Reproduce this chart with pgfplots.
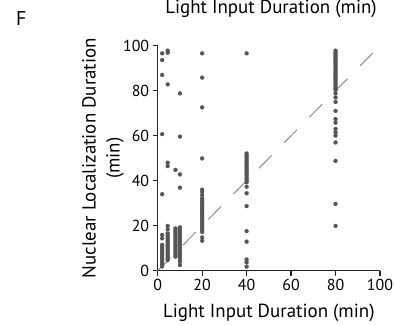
\documentclass[border=0pt]{standalone}
\usepackage{fontspec}
\setmainfont{PT Sans}
\usepackage{pgfplots}
\pgfplotsset{compat=1.18}
\definecolor{pt}{HTML}{555555}
\definecolor{dl}{HTML}{8C8C8C}
\definecolor{ax}{HTML}{222222}
\begin{document}
\begin{tikzpicture}
\useasboundingbox (-157.7bp,-55.3bp) rectangle (236.3bp,270.7bp);
\node[anchor=base west,inner sep=0pt,font=\fontsize{20}{20}\selectfont] at (-141.7bp,244.7bp) {F};
\node[anchor=base,inner sep=0pt,font=\fontsize{19}{19}\selectfont] at (113.3bp,257.2bp) {Light Input Duration (min)};
\begin{axis}[
  at={(0,0)}, anchor=south west,
  scale only axis, width=222.3bp, height=225bp,
  xmin=0, xmax=100, ymin=0, ymax=100,
  axis lines=left, axis line style={-, ax, line width=1.2bp},
  xtick={0,20,...,100}, ytick={0,20,...,100},
  tick align=outside, major tick length=5bp,
  tick style={ax, line width=1.2bp},
  /pgf/number format/assume math mode=true,
  ticklabel style={font=\fontsize{16}{16}\selectfont},
  xlabel={Light Input Duration (min)},
  ylabel={Nuclear Localization Duration\\(min)},
  label style={font=\fontsize{19}{24}\selectfont, align=center},
  xlabel style={at={(axis description cs:0.5,0)}, anchor=base, yshift=-46.5bp},
  ylabel style={at={(axis description cs:-0.246,0.5)}, anchor=center},
  clip=false,
]
\addplot[dl, line width=1bp, dash pattern=on 18bp off 18bp] coordinates {(0,0) (97,97)};
\addplot[only marks, mark=*, mark size=2bp, mark options={fill=pt, draw=pt, line width=0.2bp}] table {
x y
2 96.6
2 93.6
2 87
2 60.7
2 34
2 15.9
2 14.4
2 11.5
2 10.7
2 9.9
2 9.1
2 8.3
2 7.5
2 6.7
2 5.9
2 5.1
2 4.3
2 3.5
2 2.7
2 1.9
4.5 97.8
4.5 96.9
4.5 82.8
4.5 48
4.5 46.5
4.5 19.9
4.5 18.4
4.5 16.6
4.5 15.8
4.5 15
4.5 14.2
4.5 13.4
4.5 12.6
4.5 11.8
4.5 11
4.5 10.2
4.5 9.4
4.5 8.6
4.5 7.8
4.5 7
4.5 6.2
4.5 5.4
4.5 4.7
8 44.8
8 18.8
8 18
8 17.2
8 16.4
8 15.6
8 14.8
8 14
8 13.2
8 12.4
8 11.6
8 10.8
8 10
8 9.2
8 8.4
8 7.6
8 6.8
8 6.2
10 78.8
10 59.6
10 42.8
10 36.9
10 19.3
10 18.2
10 17.2
10 16.2
10 15.2
10 14.2
10 13.2
10 12.2
10 11.2
10 10.2
10 9.2
10 8.2
10 7.2
10 6.2
10 5.2
10 4
10 2.5
20 96.6
20 85.8
20 72.6
20 49.9
20 36
20 35
20 33.6
20 32.2
20 31.4
20 30.6
20 29.8
20 29
20 28.2
20 27.4
20 26.6
20 25.8
20 25
20 24.2
20 23.4
20 22.6
20 21.8
20 21
20 20.2
20 19.4
20 18.6
20 17.8
20 17.2
20 14.8
20 13.3
40 96.6
40 52.1
40 51.3
40 50.5
40 49.7
40 48.9
40 48.1
40 47.3
40 46.5
40 45.7
40 44.9
40 44.1
40 43.3
40 42.5
40 41.7
40 40.9
40 40.1
40 39.3
40 37.3
40 34.4
40 28.7
40 17.6
40 12.9
40 5
40 3.7
40 1.8
80 97.8
80 97
80 96.2
80 95.4
80 94.6
80 93.8
80 93
80 92.2
80 91.4
80 90.6
80 89.8
80 89
80 88.2
80 87.4
80 86.6
80 85.8
80 85
80 84.2
80 83.4
80 82.6
80 81.8
80 81
80 80.3
80 78.8
80 77
80 75
80 71
80 67.4
80 65.8
80 63
80 61.5
80 60
80 57
80 48.8
80 29.7
80 19.9
};
\end{axis}
\end{tikzpicture}
\end{document}
